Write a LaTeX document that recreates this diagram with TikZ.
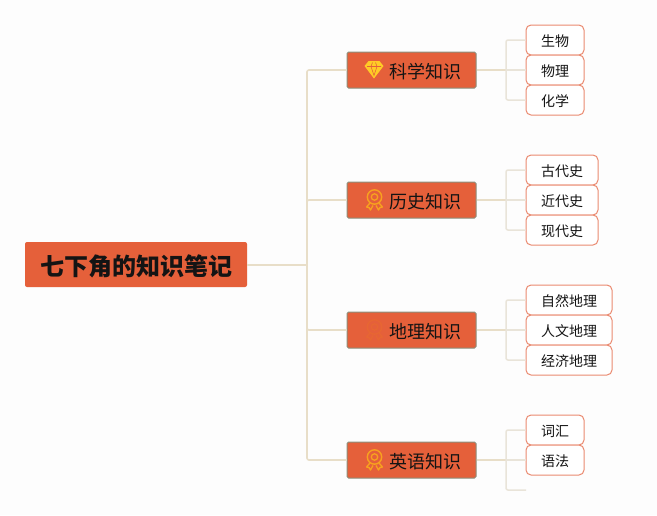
\documentclass[tikz,border=0pt]{standalone}
\usepackage{fontspec}
\setmainfont{Noto Sans CJK SC}
\definecolor{pagebg}{HTML}{FDFDFD}
\definecolor{nodefill}{HTML}{E5603A}
\definecolor{topicedge}{HTML}{8C8F7C}
\definecolor{leafedge}{HTML}{EA8A70}
\definecolor{rootline}{HTML}{E8DEC8}
\definecolor{branchline}{HTML}{E9E4D9}
\definecolor{inkblack}{HTML}{141414}
\definecolor{gemyellow}{HTML}{FFCB26}
\definecolor{medalorange}{HTML}{F7A11F}
\definecolor{faintorange}{HTML}{E76633}
\newcommand{\lowertext}[2]{\raisebox{0pt}[\dimexpr\height+#1pt*2\relax]{#2}}
\tikzset{
  rootbox/.style={fill=nodefill,rounded corners=2pt,minimum width=222pt,minimum height=45pt,inner sep=0pt,text=inkblack,font=\fontsize{24}{24}\selectfont\bfseries},
  topicbox/.style={fill=nodefill,draw=topicedge,line width=1pt,rounded corners=1.5pt,minimum width=129pt,minimum height=36pt,inner sep=0pt},
  topiclabel/.style={text=inkblack,font=\fontsize{18}{18}\selectfont,inner sep=0pt},
  leafbox/.style={fill=white,draw=leafedge,line width=1pt,rounded corners=5pt,minimum height=30pt,inner sep=0pt,text=inkblack,font=\fontsize{14}{14}\selectfont},
  leaftwo/.style={leafbox,minimum width=58pt},
  leafthree/.style={leafbox,minimum width=72pt},
  leaffour/.style={leafbox,minimum width=86pt},
  mainlink/.style={draw=rootline,line width=2pt},
  sublink/.style={draw=branchline,line width=1.5pt,rounded corners=2pt},
  trunklink/.style={draw=rootline,line width=1.6pt,rounded corners=2pt},
  midlink/.style={draw=rootline,line width=1.6pt},
  pics/medal/.style={code={
    \draw[#1,line width=1.4pt] (0,-3.5) circle (7.2pt);
    \draw[#1,line width=1.3pt] (0,-3.5) circle (3.2pt);
    \draw[#1,line width=1.3pt,line join=round] (-4.5,2.5) -- (-8,6.5) -- (-5.5,7) -- (-4,9.5) -- (-1.5,5);
    \draw[#1,line width=1.3pt,line join=round] (4.5,2.5) -- (8,6.5) -- (5.5,7) -- (4,9.5) -- (1.5,5);
  }},
  pics/gem/.style={code={
    \fill[gemyellow] (-5.5,-8.5) -- (5.5,-8.5) -- (9.5,-3.5) -- (0,9) -- (-9.5,-3.5) -- cycle;
    \draw[nodefill,line width=.6pt] (-7,-3) -- (7,-3) (-3,-3) -- (0,6) -- (3,-3) (-3,-3) -- (-1.5,-7) (3,-3) -- (1.5,-7);
  }},
}
\begin{document}
\begin{tikzpicture}[x=1pt,y=-1pt]
\useasboundingbox[fill=pagebg] (0,0) rectangle (657,515);
\coordinate (trunk) at (307,264.5);
\coordinate (emptyleaf) at (526,490);
\coordinate (h1) at (506,70);
\coordinate (h2) at (506,200);
\coordinate (h3) at (506,330);
\coordinate (h4) at (506,460);
\node[rootbox] (root) at (136,264.5) {\hspace{1pt}\lowertext{2}{七下角的知识笔记}};
\node[topicbox] (t1) at (411.5,70) {};
\node[topicbox] (t2) at (411.5,200) {};
\node[topicbox] (t3) at (411.5,330) {};
\node[topicbox] (t4) at (411.5,460) {};
\node[leaftwo] (a1) at (555,40) {\lowertext{1}{生物}};
\node[leaftwo] (a2) at (555,70) {\lowertext{1}{物理}};
\node[leaftwo] (a3) at (555,100) {\lowertext{1}{化学}};
\node[leafthree] (b1) at (562,170) {\lowertext{1}{古代史}};
\node[leafthree] (b2) at (562,200) {\lowertext{1}{近代史}};
\node[leafthree] (b3) at (562,230) {\lowertext{1}{现代史}};
\node[leaffour] (c1) at (569,300) {\lowertext{1}{自然地理}};
\node[leaffour] (c2) at (569,330) {\lowertext{1}{人文地理}};
\node[leaffour] (c3) at (569,360) {\lowertext{1}{经济地理}};
\node[leaftwo] (d1) at (555,430) {\lowertext{1}{词汇}};
\node[leaftwo] (d2) at (555,460) {\lowertext{1}{语法}};
\draw[mainlink] (root.east) -- (trunk);
\draw[trunklink] (trunk) |- (t1.west);
\draw[trunklink] (trunk) |- (t2.west);
\draw[trunklink] (trunk) |- (t3.west);
\draw[trunklink] (trunk) |- (t4.west);
\foreach \t/\h in {t1/h1,t2/h2,t3/h3,t4/h4} \draw[midlink] (\t.east) -- (\h);
\draw[sublink] (h1) |- (a1.west);
\draw[sublink] (h1) -- (a2.west);
\draw[sublink] (h1) |- (a3.west);
\draw[sublink] (h2) |- (b1.west);
\draw[sublink] (h2) -- (b2.west);
\draw[sublink] (h2) |- (b3.west);
\draw[sublink] (h3) |- (c1.west);
\draw[sublink] (h3) -- (c2.west);
\draw[sublink] (h3) |- (c3.west);
\draw[sublink] (h4) |- (d1.west);
\draw[sublink] (h4) -- (d2.west);
\draw[sublink] (h4) |- (emptyleaf);
\node[topiclabel,anchor=west] (l1) at (389,71.5) {科学知识};
\node[topiclabel,anchor=west] (l2) at (389,201.5) {历史知识};
\node[topiclabel,anchor=west] (l3) at (389,331.5) {地理知识};
\node[topiclabel,anchor=west] (l4) at (389,461.5) {英语知识};
\pic at (374,69.5) {gem};
\pic at (374.5,200.5) {medal=medalorange};
\pic at (374.5,330.5) {medal=faintorange};
\pic at (374.5,460.5) {medal=medalorange};
\end{tikzpicture}
\end{document}
